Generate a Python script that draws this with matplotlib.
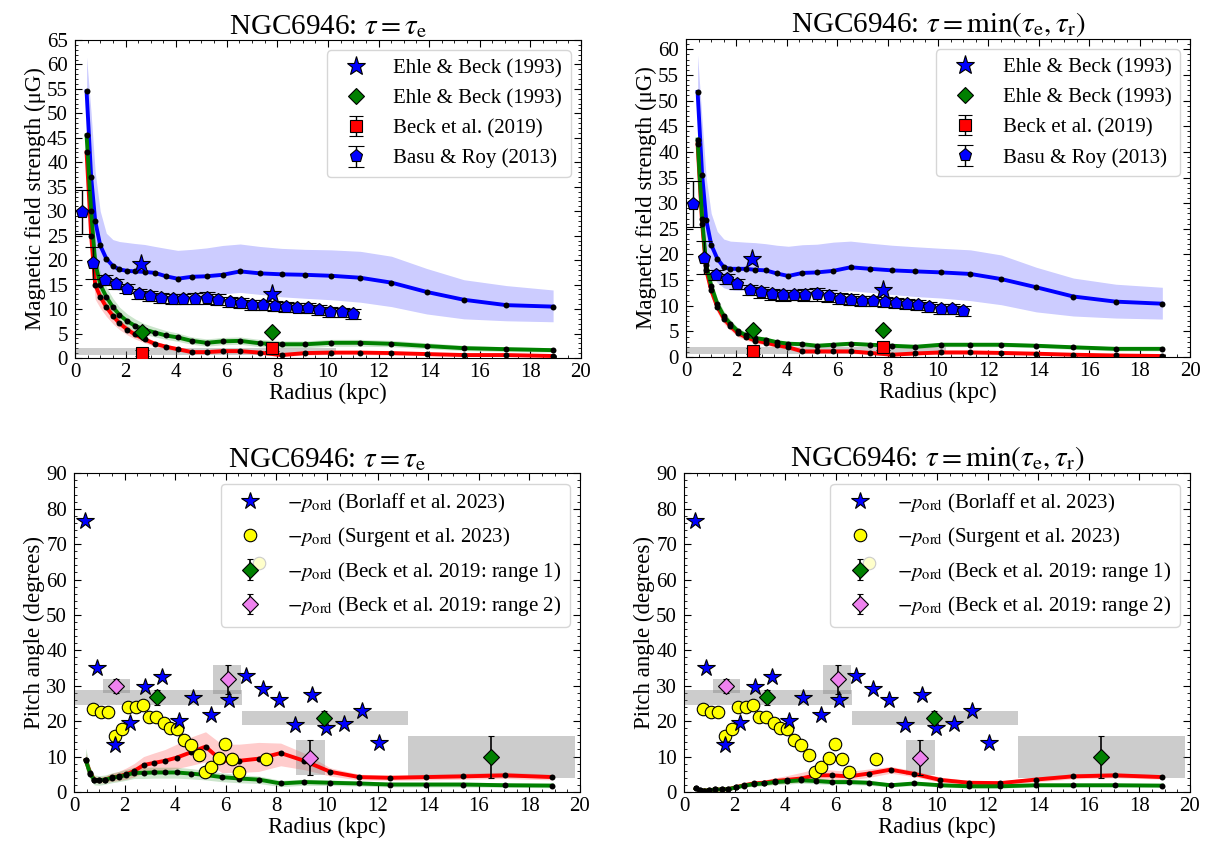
import matplotlib
matplotlib.use("Agg")
import matplotlib.pyplot as plt
from matplotlib.ticker import MultipleLocator

plt.rcParams["font.family"] = ["Liberation Serif", "DejaVu Serif"]
plt.rcParams["mathtext.fontset"] = "stix"
plt.rcParams["font.size"] = 15
for ax_name in ("xtick", "ytick"):
    plt.rcParams[f"{ax_name}.direction"] = "in"
    plt.rcParams[f"{ax_name}.major.size"] = 5
    plt.rcParams[f"{ax_name}.minor.size"] = 2.5
    plt.rcParams[f"{ax_name}.minor.visible"] = True
plt.rcParams["xtick.top"] = True
plt.rcParams["ytick.right"] = True
plt.rcParams["ytick.major.pad"] = 5

# model radii (kpc), shared by all four panels
r = [0.46, 0.64, 0.8, 1.0, 1.24, 1.5, 1.76, 2.07, 2.37, 2.75, 3.16, 3.6, 4.06, 4.62,
     5.2, 5.84, 6.53, 7.3, 8.17, 9.1, 10.13, 11.28, 12.51, 13.9, 15.37, 17.05, 18.9]

# --- field strengths, tau = tau_e ---
btot_e = [54.5, 37.0, 28.0, 23.0, 20.3, 18.8, 18.1, 17.8, 17.7, 17.6, 17.4, 16.7, 16.2, 16.6,
          16.7, 17.0, 17.7, 17.3, 17.1, 17.0, 16.8, 16.4, 15.4, 13.5, 11.9, 10.8, 10.5]
btot_e_hi = [61.5, 50, 38, 30, 25.5, 24.2, 23.8, 23.6, 23.4, 23.2, 22.8, 22.4, 22.0, 22.2,
             22.5, 23.0, 23.3, 22.8, 22.4, 22.2, 22.1, 21.8, 20.8, 18.3, 16.0, 14.8, 13.9]
btot_e_lo = [47, 30, 21, 17, 15.2, 14.2, 13.8, 13.7, 13.6, 13.6, 13.5, 13.2, 12.8, 12.9,
             12.9, 13.1, 13.4, 13.0, 12.5, 12.2, 11.9, 11.4, 10.5, 9.0, 8.0, 7.6, 7.4]
biso_e = [45.5, 30.0, 19.5, 15.0, 12.5, 10.4, 8.8, 7.5, 6.6, 5.8, 5.2, 4.6, 4.2, 3.5,
          3.1, 3.4, 3.5, 3.0, 2.8, 2.8, 3.1, 3.1, 2.9, 2.45, 2.0, 1.8, 1.6]
biso_e_hi = [48, 33, 22, 17.5, 14.5, 12.2, 10.4, 9.0, 8.0, 7.0, 6.3, 5.6, 5.1, 4.3,
             3.9, 4.2, 4.3, 3.8, 3.5, 3.5, 3.8, 3.8, 3.6, 3.1, 2.6, 2.3, 2.1]
biso_e_lo = [43, 27, 17, 13, 10.8, 8.9, 7.5, 6.3, 5.5, 4.8, 4.3, 3.8, 3.4, 2.8,
             2.4, 2.7, 2.8, 2.3, 2.1, 2.1, 2.4, 2.4, 2.3, 1.9, 1.5, 1.3, 1.2]
bord_e = [42, 25, 15.0, 12.5, 10.4, 8.6, 7.1, 5.8, 4.8, 3.8, 2.9, 2.3, 1.8, 1.2,
          1.2, 1.4, 1.4, 1.1, 0.6, 1.0, 1.1, 1.1, 1.0, 0.8, 0.6, 0.6, 0.4]
bord_e_hi = [44, 27, 16.5, 13.8, 11.5, 9.6, 8.0, 6.6, 5.5, 4.4, 3.4, 2.8, 2.2, 1.6,
             1.6, 1.8, 1.8, 1.5, 1.0, 1.4, 1.5, 1.5, 1.4, 1.2, 1.0, 0.9, 0.7]
bord_e_lo = [38, 21, 12, 10.2, 8.5, 7.0, 5.8, 4.7, 3.9, 3.1, 2.3, 1.8, 1.4, 0.8,
             0.8, 1.0, 1.0, 0.7, 0.3, 0.6, 0.7, 0.7, 0.6, 0.5, 0.3, 0.3, 0.2]

# --- field strengths, tau = min(tau_e, tau_r) ---
btot_r = [51.7, 35.5, 26.8, 21.9, 19.2, 17.5, 17.2, 17.2, 17.2, 17.0, 16.9, 16.3, 15.8, 16.4,
          16.5, 16.8, 17.5, 17.2, 16.9, 16.7, 16.5, 16.2, 15.2, 13.6, 11.8, 10.8, 10.4]
btot_r_hi = [58.9, 46, 35, 28, 24.5, 23.0, 22.6, 22.5, 22.4, 22.3, 22.1, 21.8, 21.6, 21.9,
             22.0, 22.4, 22.6, 22.2, 21.8, 21.5, 21.2, 20.9, 19.9, 17.5, 15.4, 14.2, 13.6]
btot_r_lo = [45, 29, 20, 16.3, 14.5, 13.5, 13.1, 13.0, 13.0, 12.9, 12.8, 12.5, 12.1, 12.3,
             12.4, 12.6, 12.9, 12.6, 12.2, 11.8, 11.5, 11.0, 10.2, 8.8, 8.0, 7.6, 7.4]
biso_r = [42.4, 27, 18, 13.9, 10.4, 8.0, 6.5, 5.0, 4.3, 3.7, 3.4, 2.9, 2.6, 2.5,
          2.2, 2.4, 2.6, 2.4, 2.2, 2.0, 2.4, 2.4, 2.4, 2.2, 1.9, 1.6, 1.6]
biso_r_hi = [44, 29, 19.5, 15.2, 11.5, 9.0, 7.3, 5.7, 4.9, 4.2, 3.9, 3.3, 3.0, 2.9,
             2.6, 2.8, 3.0, 2.8, 2.6, 2.4, 2.8, 2.8, 2.8, 2.6, 2.3, 2.0, 2.0]
biso_r_lo = [40, 25, 16.5, 12.6, 9.4, 7.1, 5.7, 4.4, 3.7, 3.2, 2.9, 2.5, 2.2, 2.1,
             1.8, 2.0, 2.2, 2.0, 1.8, 1.6, 2.0, 2.0, 2.0, 1.8, 1.5, 1.2, 1.2]
bord_r = [41.5, 26, 17, 13.0, 9.8, 7.5, 6.0, 4.6, 3.9, 3.2, 2.8, 2.3, 1.9, 1.1,
          1.1, 1.1, 1.1, 0.8, 0.45, 0.7, 0.9, 0.9, 0.8, 0.65, 0.45, 0.3, 0.2]
bord_r_hi = [43.5, 28, 18.5, 14.3, 10.9, 8.5, 6.8, 5.3, 4.5, 3.7, 3.3, 2.7, 2.3, 1.5,
             1.5, 1.5, 1.5, 1.2, 0.8, 1.1, 1.3, 1.3, 1.2, 1.0, 0.8, 0.6, 0.5]
bord_r_lo = [39, 24, 15.5, 11.7, 8.7, 6.5, 5.2, 3.9, 3.3, 2.7, 2.3, 1.9, 1.5, 0.7,
             0.7, 0.7, 0.7, 0.5, 0.2, 0.4, 0.5, 0.5, 0.4, 0.3, 0.2, 0.1, 0.05]

# --- pitch angles, tau = tau_e ---
pord_e = [9.0, 5.4, 3.5, 3.3, 3.5, 4.1, 4.4, 5.0, 5.9, 7.6, 8.2, 8.8, 9.7, 11.2,
          12.8, 8.8, 8.8, 9.4, 11.0, 8.8, 5.7, 4.2, 4.0, 4.2, 4.4, 4.7, 4.2]
pord_e_hi = [11, 6.5, 4.3, 4.2, 4.5, 5.3, 5.8, 6.8, 8.0, 10.0, 11.0, 12.0, 13.5, 15.5,
             17.0, 13.5, 13.5, 14.0, 13.8, 11.0, 6.8, 5.0, 4.8, 5.0, 5.3, 5.6, 5.0]
pord_e_lo = [7, 4.3, 2.7, 2.5, 2.6, 3.0, 3.2, 3.6, 4.2, 5.4, 5.8, 6.2, 6.6, 7.5,
             8.5, 5.5, 5.5, 5.8, 7.4, 6.3, 4.5, 3.4, 3.3, 3.4, 3.6, 3.8, 3.4]
pmean_e = [9.0, 5.2, 3.4, 3.3, 3.5, 4.0, 4.3, 4.8, 5.4, 5.4, 5.5, 5.5, 5.5, 5.2,
           4.8, 4.2, 3.8, 3.5, 2.4, 2.8, 2.6, 2.4, 2.1, 2.1, 2.1, 1.9, 1.8]
pmean_e_hi = [12.4, 7, 4.8, 4.6, 4.8, 5.4, 5.8, 6.4, 7.0, 7.0, 7.0, 7.0, 7.0, 6.6,
              6.1, 5.4, 4.9, 4.5, 3.3, 3.6, 3.4, 3.1, 2.8, 2.8, 2.8, 2.6, 2.5]
pmean_e_lo = [6.5, 3.5, 2.0, 1.9, 2.2, 2.6, 2.9, 3.3, 3.8, 3.8, 3.9, 3.9, 3.9, 3.7,
              3.4, 2.9, 2.6, 2.4, 1.5, 1.9, 1.8, 1.7, 1.4, 1.4, 1.4, 1.3, 1.2]

# --- pitch angles, tau = min(tau_e, tau_r) ---
pord_r = [1.0, 0.5, 0.4, 0.5, 0.7, 0.7, 0.8, 1.4, 1.9, 2.4, 2.6, 3.1, 3.4, 3.8,
          4.7, 4.7, 4.4, 5.2, 6.3, 5.1, 3.4, 2.6, 2.5, 3.5, 4.4, 4.7, 4.2]
pord_r_hi = [1.4, 0.8, 0.7, 0.8, 1.0, 1.1, 1.2, 1.9, 2.5, 3.1, 3.4, 4.0, 4.6, 5.5,
             6.5, 6.2, 5.8, 6.5, 7.2, 6.0, 4.2, 3.2, 3.1, 4.2, 5.2, 5.4, 4.9]
pord_r_lo = [0.7, 0.3, 0.2, 0.3, 0.4, 0.4, 0.5, 1.0, 1.4, 1.8, 1.9, 2.3, 2.5, 2.8,
             3.5, 3.6, 3.4, 4.1, 5.3, 4.3, 2.7, 2.0, 1.9, 2.8, 3.7, 4.0, 3.6]
pmean_r = [1.0, 0.5, 0.4, 0.5, 0.7, 0.7, 0.8, 1.3, 1.8, 2.2, 2.4, 2.8, 3.0, 3.3,
           3.1, 2.8, 2.8, 2.6, 1.9, 2.4, 1.9, 1.6, 1.6, 1.9, 1.9, 1.9, 1.8]
pmean_r_hi = [1.4, 0.8, 0.7, 0.8, 1.0, 1.1, 1.2, 1.8, 2.4, 2.9, 3.2, 3.6, 3.9, 4.2,
              4.0, 3.6, 3.6, 3.3, 2.5, 3.0, 2.5, 2.1, 2.1, 2.4, 2.4, 2.4, 2.3]
pmean_r_lo = [0.7, 0.3, 0.2, 0.3, 0.4, 0.4, 0.5, 0.9, 1.3, 1.6, 1.7, 2.1, 2.2, 2.5,
              2.3, 2.1, 2.1, 1.9, 1.4, 1.8, 1.4, 1.1, 1.1, 1.4, 1.4, 1.4, 1.3]

# --- observations: field strength ---
eb_star_r = [2.63, 7.8]
eb_star_B = [19.2, 13.1]
eb_dia_r = [2.65, 7.8]
eb_dia_B = [5.3, 5.3]
beck_r = [2.65, 7.8]
beck_B = [1.1, 2.0]
beck_Berr = [0.6, 0.6]
beck_band_r = [0.0, 10.3]
beck_band_B = [0.6, 2.0]
basu_r = [0.29, 0.72, 1.18, 1.62, 2.04, 2.54, 2.96, 3.42, 3.86, 4.28, 4.74, 5.2, 5.66,
          6.12, 6.55, 7.0, 7.43, 7.89, 8.33, 8.78, 9.21, 9.64, 10.1, 10.57, 11.0]
basu_B = [29.8, 19.4, 16.0, 15.2, 14.2, 13.1, 12.6, 12.2, 12.0, 12.1, 12.1, 12.2, 11.9,
          11.4, 11.2, 10.9, 10.9, 10.7, 10.5, 10.3, 10.2, 9.8, 9.4, 9.3, 9.0]
basu_err = [4.5, 3.3, 1.0, 1.0, 1.0, 1.0, 1.0, 1.0, 1.0, 1.0, 1.1, 1.2, 1.1,
            1.0, 1.0, 1.0, 1.0, 1.0, 1.0, 1.0, 1.0, 1.0, 1.0, 1.0, 1.0]

# --- observations: pitch angle ---
borlaff_r = [0.43, 0.89, 1.61, 2.23, 2.8, 3.49, 4.17, 4.72, 5.42, 6.12, 6.8, 7.48, 8.11,
             8.74, 9.42, 9.95, 10.69, 11.39, 12.05]
borlaff_p = [76.4, 34.9, 13.2, 19.5, 29.7, 32.4, 20.1, 26.4, 21.7, 26.1, 32.7, 29.0, 26.1,
             18.9, 27.4, 18.2, 19.1, 22.9, 13.8]
surgent_r = [0.76, 1.05, 1.35, 1.61, 1.9, 2.14, 2.44, 2.73, 2.96, 3.25, 3.54, 3.81, 4.07,
             4.33, 4.63, 4.93, 5.16, 5.42, 5.72, 5.98, 6.23, 6.51, 7.32, 7.59]
surgent_p = [23.3, 22.6, 22.6, 15.8, 17.7, 23.9, 23.9, 24.5, 21.2, 21.2, 19.5, 18.2, 17.9,
             14.8, 13.2, 10.4, 5.7, 7.1, 9.7, 13.5, 9.4, 5.7, 64.6, 9.2]
beck1_r = [3.3, 9.9, 16.5]
beck1_p = [26.7, 21.0, 9.9]
beck1_err = [2.0, 2.0, 6.0]
beck1_rlo = [0.0, 6.64, 13.2]
beck1_rhi = [6.64, 13.2, 19.8]
beck2_r = [1.65, 6.07, 9.32]
beck2_p = [29.9, 31.8, 9.7]
beck2_err = [2.0, 4.0, 4.9]
beck2_rlo = [1.13, 5.51, 8.79]
beck2_rhi = [2.2, 6.6, 9.92]

LEG_FS = 15
TITLE_FS = 21
LABEL_FS = 16.5


def model_curve(ax, y, lo, hi, color):
    ax.fill_between(r, lo, hi, color=color, alpha=0.2, lw=0, zorder=1)
    ax.plot(r, y, color=color, lw=2.8, zorder=3)
    ax.plot(r, y, "o", color="k", ms=4.3, mew=0, zorder=4)


def style(ax, title, ylabel, ymax, ymajor, yminor):
    ax.set_xlim(0, 20)
    ax.set_ylim(0, ymax)
    ax.xaxis.set_major_locator(MultipleLocator(2))
    ax.xaxis.set_minor_locator(MultipleLocator(0.5))
    ax.yaxis.set_major_locator(MultipleLocator(ymajor))
    ax.yaxis.set_minor_locator(MultipleLocator(yminor))
    ax.set_title(title, fontsize=TITLE_FS, pad=3)
    ax.set_xlabel("Radius (kpc)", fontsize=LABEL_FS, labelpad=1)
    ax.set_ylabel(ylabel, fontsize=LABEL_FS, labelpad=1)


def field_panel(ax, curves, title, ymax):
    for y, lo, hi, c in curves:
        model_curve(ax, y, lo, hi, c)
    ax.fill_between(beck_band_r, beck_band_B[0], beck_band_B[1], color="grey", alpha=0.4,
                    lw=0, zorder=2)
    h1, = ax.plot(eb_star_r, eb_star_B, "*", ms=14, mfc="blue", mec="k", mew=0.8, zorder=6)
    h2, = ax.plot(eb_dia_r, eb_dia_B, "D", ms=8.5, mfc="green", mec="k", mew=0.8, zorder=6)
    h3 = ax.errorbar(beck_r, beck_B, yerr=beck_Berr, fmt="s", ms=9, mfc="red", mec="k",
                     mew=0.8, ecolor="k", elinewidth=1, capsize=5, zorder=6)
    h4 = ax.errorbar(basu_r, basu_B, yerr=basu_err, fmt="p", ms=9.5, mfc="blue", mec="k",
                     mew=0.8, ecolor="k", elinewidth=1, capsize=6, zorder=5)
    ax.legend([h1, h2, h3, h4],
              ["Ehle & Beck (1993)", "Ehle & Beck (1993)", "Beck et al. (2019)",
               "Basu & Roy (2013)"], loc="upper right", fontsize=LEG_FS)
    style(ax, title, "Magnetic field strength (μG)", ymax, 5, 1)


def pitch_panel(ax, curves, title):
    for y, lo, hi, c in curves:
        model_curve(ax, y, lo, hi, c)
    for a, b, p, e in zip(beck1_rlo, beck1_rhi, beck1_p, beck1_err):
        ax.fill_between([a, b], p - e, p + e, color="grey", alpha=0.4, lw=0, zorder=2)
    for a, b, p, e in zip(beck2_rlo, beck2_rhi, beck2_p, beck2_err):
        ax.fill_between([a, b], p - e, p + e, color="grey", alpha=0.4, lw=0, zorder=2)
    h1, = ax.plot(borlaff_r, borlaff_p, "*", ms=13, mfc="blue", mec="k", mew=0.8, zorder=6)
    h2, = ax.plot(surgent_r, surgent_p, "o", ms=9, mfc="yellow", mec="k", mew=0.8, zorder=5)
    h3 = ax.errorbar(beck1_r, beck1_p, yerr=beck1_err, fmt="D", ms=8.5, mfc="green", mec="k",
                     mew=0.8, ecolor="k", elinewidth=1.2, capsize=2.5, zorder=7)
    h4 = ax.errorbar(beck2_r, beck2_p, yerr=beck2_err, fmt="D", ms=8.5, mfc="violet", mec="k",
                     mew=0.8, ecolor="k", elinewidth=1.2, capsize=2.5, zorder=7)
    lab = r"$-p_\mathrm{ord}$"
    ax.legend([h1, h2, h3, h4],
              [lab + " (Borlaff et al. 2023)", lab + " (Surgent et al. 2023)",
               lab + " (Beck et al. 2019: range 1)", lab + " (Beck et al. 2019: range 2)"],
              loc="upper right", fontsize=LEG_FS)
    style(ax, title, "Pitch angle (degrees)", 90, 10, 2)


fig = plt.figure(figsize=(12.05, 8.56), dpi=100)
ax_tl = fig.add_axes([0.0622, 0.5818, 0.4199, 0.3715])
ax_tr = fig.add_axes([0.5693, 0.5829, 0.4183, 0.3715])
ax_bl = fig.add_axes([0.0614, 0.0748, 0.4199, 0.3723])
ax_br = fig.add_axes([0.5676, 0.0748, 0.4199, 0.3723])

t_e = r"NGC6946: $\tau = \tau_\mathrm{e}$"
t_r = r"NGC6946: $\tau = \min(\tau_\mathrm{e}, \tau_\mathrm{r})$"

field_panel(ax_tl, [(btot_e, btot_e_lo, btot_e_hi, "blue"),
                    (bord_e, bord_e_lo, bord_e_hi, "red"),
                    (biso_e, biso_e_lo, biso_e_hi, "green")], t_e, 65)
field_panel(ax_tr, [(btot_r, btot_r_lo, btot_r_hi, "blue"),
                    (bord_r, bord_r_lo, bord_r_hi, "red"),
                    (biso_r, biso_r_lo, biso_r_hi, "green")], t_r, 62)
pitch_panel(ax_bl, [(pord_e, pord_e_lo, pord_e_hi, "red"),
                    (pmean_e, pmean_e_lo, pmean_e_hi, "green")], t_e)
pitch_panel(ax_br, [(pord_r, pord_r_lo, pord_r_hi, "red"),
                    (pmean_r, pmean_r_lo, pmean_r_hi, "green")], t_r)

fig.savefig("out.png", dpi=100, facecolor="white")
